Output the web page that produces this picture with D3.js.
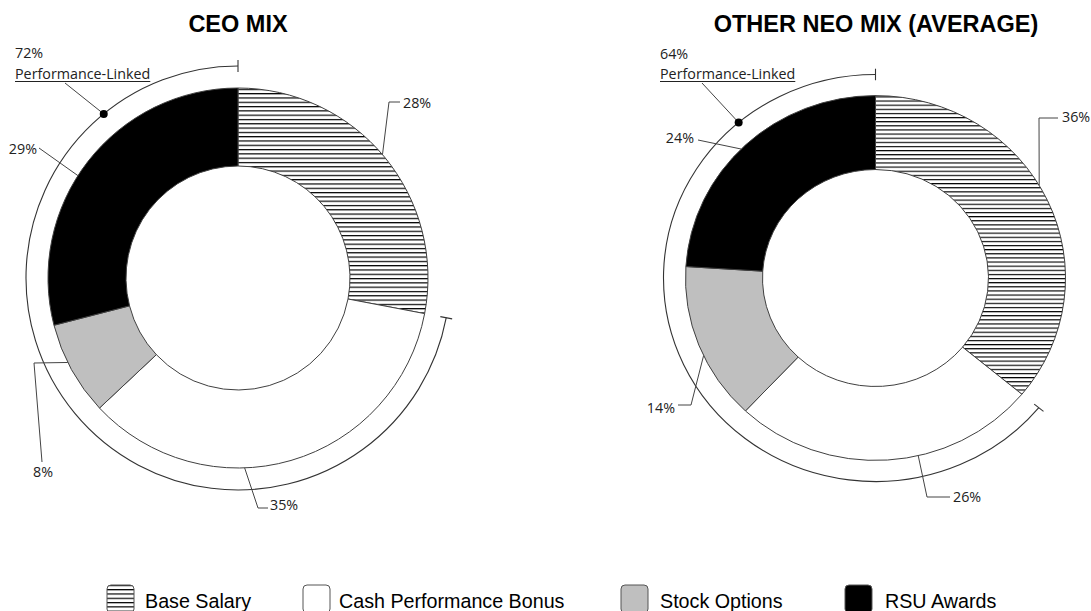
<!DOCTYPE html>
<html><head><meta charset="utf-8">
<script src="https://cdn.jsdelivr.net/npm/d3@7"></script>
<style>body{margin:0;background:#fff}</style>
</head><body>
<svg id="c" width="1091" height="611"></svg>
<script>
// ---------- data ----------
const categories = ["Base Salary", "Cash Performance Bonus", "Stock Options", "RSU Awards"];
const ceoValues = [28, 35, 8, 29];
const neoValues = [36, 26, 14, 24];
const chartTitles = ["CEO MIX", "OTHER NEO MIX (AVERAGE)"];
const perfLinkedValues = [72, 64];
const perfLinkedLabel = "Performance-Linked";

// ---------- layout ----------
const svg = d3.select("#c");
const fills = ["url(#hatch)", "#ffffff", "#bfbfbf", "#000000"];
const R = 190, BR = 212;
const charts = [
  { values: ceoValues, title: chartTitles[0], perf: perfLinkedValues[0],
    cx: 238, cy: 278, r: 112, sy: 1, titleX: 238,
    perfText: [15, 58, 79], perfLead: [65, 83], dotAngle: 320.7,
    labels: [
      { a: 49.5, pts: [[389, 102], [400, 102]], tx: 403, ty: 108, anchor: "start" },
      { a: 178, pts: [[258, 508], [268, 508]], tx: 270, ty: 510, anchor: "start" },
      { a: 243.6, pts: [[34, 363], [42, 462]], tx: 43, ty: 477, anchor: "middle" },
      { a: 302.6, pts: [[39, 148]], tx: 37, ty: 154, anchor: "end" }
    ] },
  { values: neoValues, title: chartTitles[1], perf: perfLinkedValues[1],
    cx: 875.5, cy: 278, r: 113, sy: 0.96, titleX: 876,
    perfText: [660, 59, 79], perfLead: [702, 83], dotAngle: 319.8,
    labels: [
      { a: 59.5, pts: [[1039, 118], [1058, 118]], tx: 1062, ty: 122, anchor: "start" },
      { a: 167, pts: [[927, 497], [950, 497]], tx: 953, ty: 502, anchor: "start" },
      { a: 244.8, pts: [[691, 405], [678, 405]], tx: 675, ty: 413, anchor: "end" },
      { a: 315, pts: [[698, 140]], tx: 694, ty: 143, anchor: "end" }
    ] }
];

// hatch pattern
const defs = svg.append("defs");
const pat = defs.append("pattern").attr("id", "hatch").attr("patternUnits", "userSpaceOnUse")
  .attr("width", 10).attr("height", 4.3);
pat.append("rect").attr("width", 10).attr("height", 4.3).attr("fill", "#fff");
pat.append("line").attr("x1", 0).attr("x2", 10).attr("y1", 0.6).attr("y2", 0.6)
  .attr("stroke", "#000").attr("stroke-width", 1.2);

const pie = d3.pie().sort(null).value(d => d);
const deg = Math.PI / 180;
const labelFont = "'Open Sans', sans-serif";
const labelSize = 14.3;

charts.forEach(ch => {
  // title
  svg.append("text").attr("x", ch.titleX).attr("y", 32).attr("text-anchor", "middle")
    .attr("font-family", "'Liberation Sans', Arial, sans-serif").attr("font-weight", "bold")
    .attr("font-size", 23.5).attr("fill", "#000").text(ch.title);

  const g = svg.append("g").attr("transform", `translate(${ch.cx},${ch.cy}) scale(1,${ch.sy})`);
  const arcs = pie(ch.values);
  const arc = d3.arc().innerRadius(ch.r).outerRadius(R);
  g.selectAll("path.slice").data(arcs).join("path").attr("class", "slice")
    .attr("d", arc).attr("fill", (d, i) => fills[i])
    .attr("stroke", "#404040").attr("stroke-width", 1)
    .attr("vector-effect", "non-scaling-stroke");

  // performance-linked bracket
  const a0 = arcs[1].startAngle, a1 = 2 * Math.PI;
  const p = d3.path();
  p.arc(0, 0, BR, a0 - Math.PI / 2, a1 - Math.PI / 2);
  g.append("path").attr("d", p.toString()).attr("fill", "none")
    .attr("stroke", "#333").attr("stroke-width", 1.1).attr("vector-effect", "non-scaling-stroke");
  [a0, a1].forEach(a => {
    g.append("line")
      .attr("x1", 206 * Math.sin(a)).attr("y1", -206 * Math.cos(a))
      .attr("x2", 218 * Math.sin(a)).attr("y2", -218 * Math.cos(a))
      .attr("stroke", "#333").attr("stroke-width", 1.1).attr("vector-effect", "non-scaling-stroke");
  });

  const pt = (angDeg, rad) => [ch.cx + rad * Math.sin(angDeg * deg), ch.cy - rad * Math.cos(angDeg * deg) * ch.sy];

  // perf-linked dot + label
  const dp = pt(ch.dotAngle, BR);
  svg.append("line").attr("x1", dp[0]).attr("y1", dp[1]).attr("x2", ch.perfLead[0]).attr("y2", ch.perfLead[1])
    .attr("stroke", "#444").attr("stroke-width", 1);
  svg.append("circle").attr("cx", dp[0]).attr("cy", dp[1]).attr("r", 4).attr("fill", "#000");
  svg.append("text").attr("x", ch.perfText[0]).attr("y", ch.perfText[1])
    .attr("font-family", labelFont).attr("font-size", labelSize).attr("fill", "#222").text(ch.perf + "%");
  const pl = svg.append("text").attr("x", ch.perfText[0]).attr("y", ch.perfText[2])
    .attr("font-family", labelFont).attr("font-size", labelSize).attr("fill", "#222").text(perfLinkedLabel);
  const w = pl.node().getComputedTextLength();
  svg.append("line").attr("x1", ch.perfText[0]).attr("x2", ch.perfText[0] + w)
    .attr("y1", ch.perfText[2] + 2.5).attr("y2", ch.perfText[2] + 2.5)
    .attr("stroke", "#222").attr("stroke-width", 1);

  // slice labels with leader lines
  ch.labels.forEach((lb, i) => {
    const start = pt(lb.a, R);
    const line = d3.line();
    svg.append("path").attr("d", line([start, ...lb.pts])).attr("fill", "none")
      .attr("stroke", "#444").attr("stroke-width", 1);
    svg.append("text").attr("x", lb.tx).attr("y", lb.ty).attr("text-anchor", lb.anchor)
      .attr("font-family", labelFont).attr("font-size", labelSize).attr("fill", "#222")
      .text(ch.values[i] + "%");
  });
});

// legend
const legendX = [107, 303, 621, 845];
const legendTextX = [145, 339, 660, 885];
const lg = svg.append("g");
categories.forEach((c, i) => {
  lg.append("rect").attr("x", legendX[i]).attr("y", 585).attr("width", 27).attr("height", 28)
    .attr("rx", 4).attr("fill", fills[i]).attr("stroke", "#555").attr("stroke-width", 1);
  lg.append("text").attr("x", legendTextX[i]).attr("y", 608)
    .attr("font-family", "'Liberation Sans', Arial, sans-serif").attr("font-size", 19.7)
    .attr("fill", "#000").text(c);
});
</script>
</body></html>
